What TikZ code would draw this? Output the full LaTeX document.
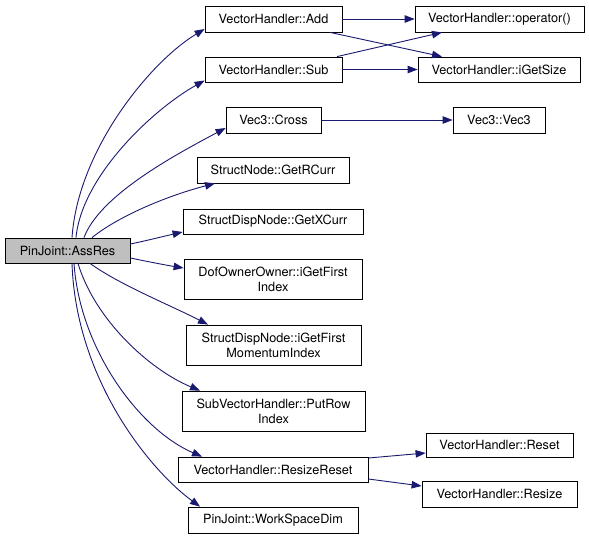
\documentclass[tikz,border=0pt]{standalone}
\usepackage{fontspec}
\setmainfont{TeX Gyre Heros}
\usetikzlibrary{arrows.meta}
\definecolor{navy}{HTML}{191970}
\definecolor{nodegray}{HTML}{BFBFBF}
\tikzset{
  box/.style={draw=black, line width=0.8pt, fill=white, inner sep=0pt, align=center,
    font=\fontsize{12.7}{15}\selectfont},
  edge/.style={draw=navy, line width=0.9pt, -{Triangle[length=10pt,width=7.5pt,fill=navy]}},
}
\begin{document}
\begin{tikzpicture}[x=1pt,y=-1pt]
\useasboundingbox (0,0) rectangle (589,539);
% nodes
\node[box, fill=nodegray, minimum width=125pt, minimum height=25pt] (as) at (67.5,250.5) {PinJoint::AssRes};
\node[box, minimum width=137pt, minimum height=26pt] (add) at (273.5,19) {VectorHandler::Add};
\node[box, minimum width=137pt, minimum height=25pt] (sub) at (273.5,69.5) {VectorHandler::Sub};
\node[box, minimum width=95pt, minimum height=26pt] (cross) at (273.5,120) {Vec3::Cross};
\node[box, minimum width=152pt, minimum height=26pt] (rcurr) at (273,170) {StructNode::GetRCurr};
\node[box, minimum width=180pt, minimum height=25pt] (xcurr) at (273,221.5) {StructDispNode::GetXCurr};
\node[box, minimum width=178pt, minimum height=40pt] (dof) at (273,279) {DofOwnerOwner::iGetFirst\\Index};
\node[box, minimum width=175pt, minimum height=40pt] (mom) at (273.5,345) {StructDispNode::iGetFirst\\MomentumIndex};
\node[box, minimum width=183pt, minimum height=40pt] (putrow) at (273.5,411) {SubVectorHandler::PutRow\\Index};
\node[box, minimum width=190pt, minimum height=25pt] (rr) at (273,469.5) {VectorHandler::ResizeReset};
\node[box, minimum width=170pt, minimum height=26pt] (wsd) at (273,520) {PinJoint::WorkSpaceDim};
\node[box, minimum width=169pt, minimum height=26pt] (op) at (499.5,19) {VectorHandler::operator()};
\node[box, minimum width=162pt, minimum height=25pt] (gs) at (499,69.5) {VectorHandler::iGetSize};
\node[box, minimum width=92pt, minimum height=26pt] (v3) at (499,120) {Vec3::Vec3};
\node[box, minimum width=147pt, minimum height=24pt] (reset) at (499.5,445) {VectorHandler::Reset};
\node[box, minimum width=155pt, minimum height=26pt] (resize) at (499.5,494) {VectorHandler::Resize};
% edges from AssRes (top)
\draw[edge] ([xshift=4.5pt]as.north) .. controls (78,150) and (150,62) .. ([yshift=-10pt]add.west);
\draw[edge] ([xshift=8.5pt]as.north) .. controls (82,175) and (155,108) .. ([yshift=-11pt]sub.west);
\draw[edge] ([xshift=16.5pt]as.north) .. controls (100,195) and (175,155) .. ([yshift=-8pt]cross.west);
\draw[edge] ([xshift=24.5pt]as.north) .. controls (120,215) and (170,195) .. ([xshift=-58pt]rcurr.south);
% edges from AssRes (right)
\draw[edge] ([yshift=6.5pt]as.east) .. controls (145,241) and (165,236) .. ([yshift=-10.5pt]xcurr.west);
\draw[edge] ([yshift=-7.5pt]as.east) .. controls (145,261) and (165,265) .. ([yshift=11pt]dof.west);
% edges from AssRes (bottom)
\draw[edge] ([xshift=22.5pt]as.south) .. controls (120,285) and (170,305) .. ([xshift=-65.5pt]mom.north);
\draw[edge] ([xshift=10.5pt]as.south) .. controls (95,320) and (150,370) .. ([xshift=-73.5pt]putrow.north);
\draw[edge] ([xshift=6.5pt]as.south) .. controls (80,350) and (140,430) .. ([xshift=-71pt]rr.north);
\draw[edge] ([xshift=4.5pt]as.south) .. controls (76,380) and (150,470) .. ([xshift=-73pt]wsd.north);
% secondary edges
\draw[edge] (add.east) -- (op.west);
\draw[edge] ([xshift=56.5pt]add.south) -- ([xshift=-57pt]gs.north);
\draw[edge] ([xshift=63.5pt]sub.north) -- ([xshift=-57.5pt]op.south);
\draw[edge] (sub.east) -- (gs.west);
\draw[edge] (cross.east) -- (v3.west);
\draw[edge] ([yshift=11.5pt]rr.east) -- ([yshift=-8pt]reset.west);
\draw[edge] ([yshift=-9.5pt]rr.east) -- ([yshift=8pt]resize.west);
\end{tikzpicture}
\end{document}
